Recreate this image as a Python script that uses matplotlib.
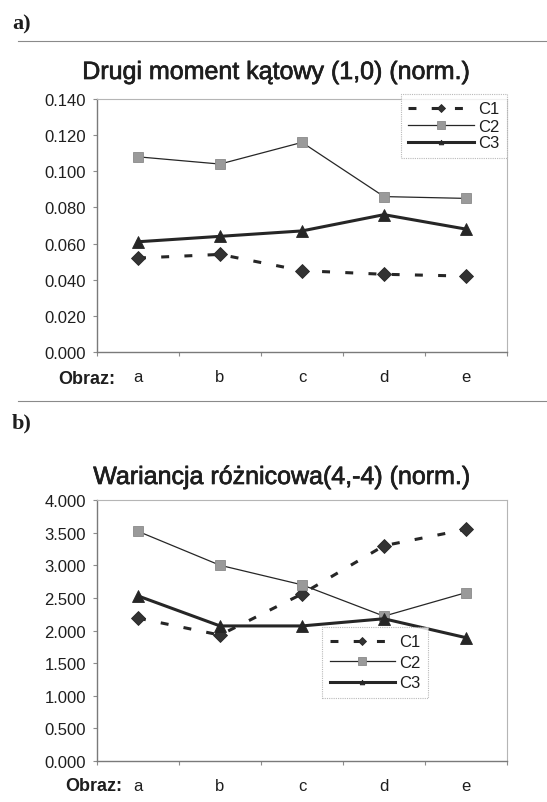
import matplotlib
matplotlib.use("Agg")
import matplotlib.pyplot as plt
import matplotlib.patheffects as pe
from matplotlib.lines import Line2D
from matplotlib.ticker import FormatStrFormatter, FixedLocator

plt.rcParams["font.family"] = ["Liberation Sans", "DejaVu Sans"]

# Image labels along the horizontal axis
categories = ["a", "b", "c", "d", "e"]
series_names = ["C1", "C2", "C3"]

# a) Drugi moment kątowy (1,0), normalised
moment_c1 = [0.052, 0.054, 0.045, 0.043, 0.042]
moment_c2 = [0.108, 0.104, 0.116, 0.086, 0.085]
moment_c3 = [0.061, 0.064, 0.067, 0.076, 0.068]
moment_ticks = [0.000, 0.020, 0.040, 0.060, 0.080, 0.100, 0.120, 0.140]

# b) Wariancja różnicowa (4,-4), normalised
variance_c1 = [2.19, 1.93, 2.56, 3.30, 3.55]
variance_c2 = [3.52, 3.00, 2.70, 2.22, 2.58]
variance_c3 = [2.53, 2.07, 2.07, 2.18, 1.89]
variance_ticks = [0.0, 0.5, 1.0, 1.5, 2.0, 2.5, 3.0, 3.5, 4.0]

W, H = 547, 803
fig = plt.figure(figsize=(W / 100, H / 100), dpi=100)


def px_rect(x0, y0, x1, y1):
    """Figure-fraction rectangle from a pixel box (top-left origin)."""
    return [x0 / W, 1 - y1 / H, (x1 - x0) / W, (y1 - y0) / H]


def fx(x):
    return x / W


def fy(y):
    return 1 - y / H


DARK = "#262626"
GRAY_MARK = "#9a9a9a"
TEXT = "#1e1e1e"

styles = [
    dict(color=DARK, lw=2.2, ls=(0, (2.6, 5.0)), marker="D", ms=7.6,
         mfc="#333333", mec=DARK, mew=0.6, zorder=3),
    dict(color=DARK, lw=0.9, ls="-", marker="s", ms=7.2,
         mfc=GRAY_MARK, mec="#8a8a8a", mew=0.6, zorder=4),
    dict(color=DARK, lw=2.2, ls="-", marker="^", ms=9.0,
         mfc=DARK, mec=DARK, mew=0.6, zorder=5),
]
legend_ms = [4.2, 6.0, 3.4]


def draw_panel(rect, series, ticks, fmt, legend_loc, legend_anchor,
               legend_spacing):
    ax = fig.add_axes(rect)
    x = list(range(len(categories)))
    for vals, st in zip(series, styles):
        ax.plot(x, vals, **st, clip_on=False)
    ax.set_xlim(-0.5, len(categories) - 0.5)
    ax.set_ylim(ticks[0], ticks[-1])
    ax.yaxis.set_major_locator(FixedLocator(ticks))
    ax.yaxis.set_major_formatter(FormatStrFormatter(fmt))
    ax.set_xticks(x)
    ax.set_xticklabels(categories)
    ax.set_xticks([i + 0.5 for i in range(-1, len(categories))], minor=True)
    ax.tick_params(axis="x", which="major", length=0, pad=12, labelsize=12,
                   colors=TEXT)
    ax.tick_params(axis="x", which="minor", length=3, width=0.8,
                   direction="out", color="#8c8c8c")
    ax.tick_params(axis="y", length=3, width=0.8, pad=5, labelsize=12,
                   color="#8c8c8c", labelcolor=TEXT)
    for side in ("left", "bottom"):
        ax.spines[side].set_color("#7a7a7a")
        ax.spines[side].set_linewidth(1.0)
    for side in ("top", "right"):
        ax.spines[side].set_color("#b5b5b5")
        ax.spines[side].set_linewidth(0.8)
        ax.spines[side].set_linestyle((0, (1, 1)))

    handles = []
    for st, ms in zip(styles, legend_ms):
        s = dict(st)
        s.pop("zorder")
        s["ms"] = ms
        handles.append(Line2D([], [], **s))
    leg = ax.legend(handles, series_names, loc=legend_loc,
                    bbox_to_anchor=legend_anchor,
                    bbox_transform=fig.transFigure, frameon=True,
                    fancybox=False, borderaxespad=0, fontsize=12,
                    handlelength=3.95, handletextpad=0.25, borderpad=0.45,
                    labelspacing=legend_spacing)
    frame = leg.get_frame()
    frame.set_edgecolor("#a8a8a8")
    frame.set_linewidth(0.8)
    frame.set_linestyle((0, (1, 1)))
    for t in leg.get_texts():
        t.set_color(TEXT)
    return ax


# Panel a
ax_a = draw_panel(px_rect(97, 100, 507, 353),
                  [moment_c1, moment_c2, moment_c3], moment_ticks, "%.3f",
                  "upper right", (fx(507), fy(95)), 0.12)
# Panel b
ax_b = draw_panel(px_rect(97, 501, 507, 762),
                  [variance_c1, variance_c2, variance_c3], variance_ticks,
                  "%.3f",
                  "upper left", (fx(322), fy(628)), 0.33)

# "Obraz:" captions beside the category labels
fig.text(fx(115), fy(380), "Obraz:", ha="right", va="center",
         fontsize=13, fontweight="bold", color=TEXT)
fig.text(fx(122), fy(787), "Obraz:", ha="right", va="center",
         fontsize=13, fontweight="bold", color=TEXT)

# Chart titles
title_fx = [pe.withStroke(linewidth=0.5, foreground=TEXT)]
fig.text(fx(276), fy(73), "Drugi moment kątowy (1,0) (norm.)",
         ha="center", va="center", fontsize=18, color=TEXT,
         path_effects=title_fx)
fig.text(fx(282), fy(478), "Wariancja różnicowa(4,-4) (norm.)",
         ha="center", va="center", fontsize=18, color=TEXT,
         path_effects=title_fx)

# Panel letters
for y, letter in ((24, "a)"), (423, "b)")):
    fig.text(fx(12), fy(y), letter, ha="left", va="center", fontsize=16,
             fontweight="bold", family=["Liberation Serif", "DejaVu Serif"],
             color=TEXT)

# Separator rules
for y in (42, 402):
    fig.add_artist(Line2D([fx(18), 1.0], [fy(y), fy(y)],
                          transform=fig.transFigure, color="#8a8a8a",
                          lw=0.8))

fig.savefig("out.png", dpi=100, facecolor="white")
